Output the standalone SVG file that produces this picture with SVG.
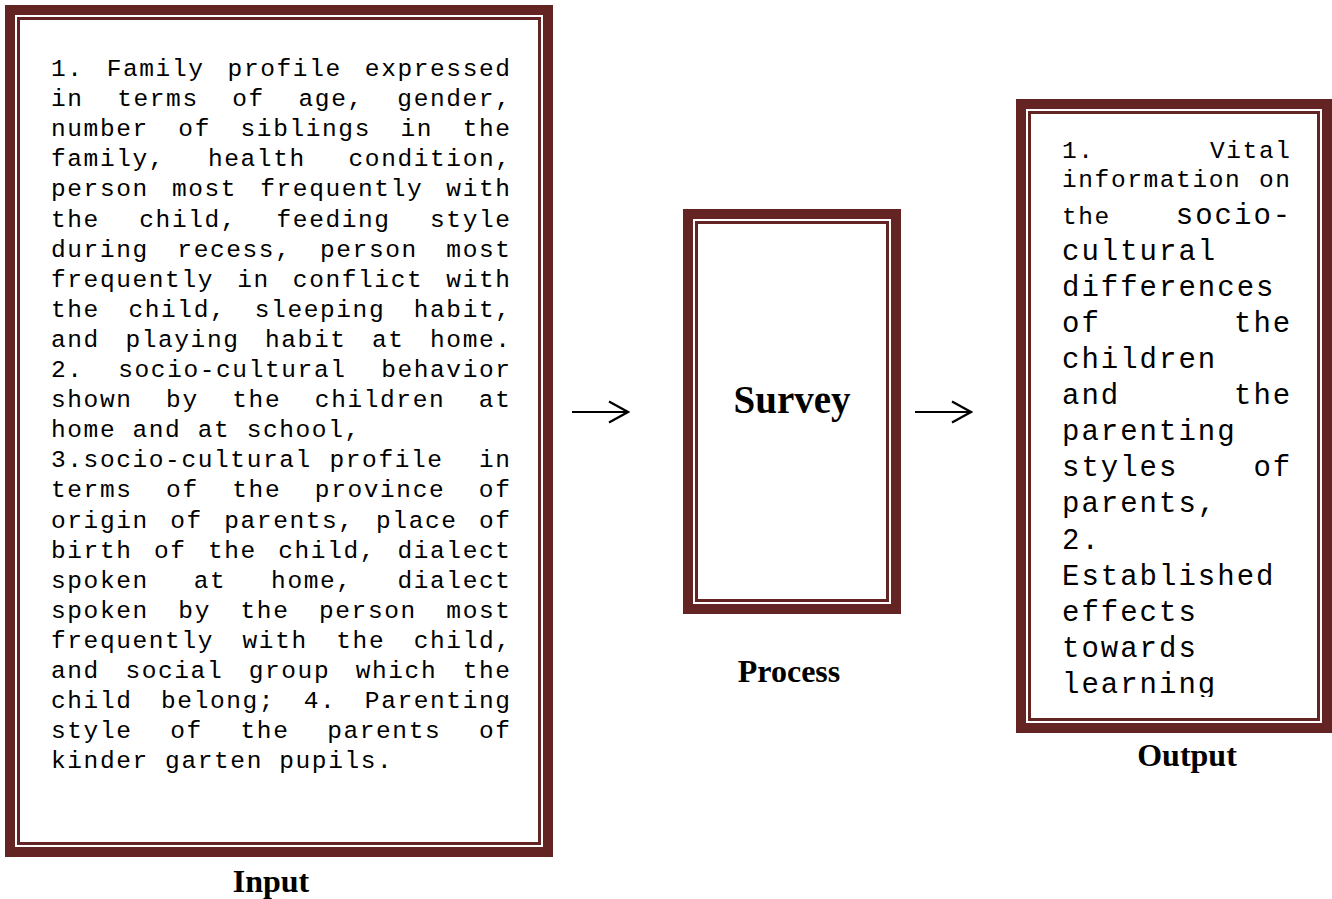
<svg xmlns="http://www.w3.org/2000/svg" width="1332" height="899" viewBox="0 0 1332 899">
<style>
.band{fill:#ffffff;stroke:#632423;stroke-width:10}
.line{fill:none;stroke:#632423;stroke-width:3}
.mono{font-family:"Liberation Mono","Courier New",monospace;fill:#000000}
.s{font-size:24.5px;letter-spacing:1.6px}
.l{font-size:29px;letter-spacing:2.0px}
.lab{font-family:"Liberation Serif","Times New Roman",serif;font-weight:bold;fill:#000000;text-anchor:middle}
.conn{stroke:#000000;stroke-width:2;fill:none}
</style>
<defs>
<marker id="head" viewBox="0 0 22 24" refX="20" refY="12" markerWidth="22" markerHeight="24" markerUnits="userSpaceOnUse" orient="auto">
<path d="M1,1.5 L20,12 L1,22.5" fill="none" stroke="#000000" stroke-width="2.2"/>
</marker>
<clipPath id="outclip"><rect x="1040" y="120" width="272" height="577"/></clipPath>
</defs>
<rect x="0" y="0" width="1332" height="899" fill="#ffffff"/>

<g id="input">
<rect class="band" x="10" y="10" width="538" height="842"/>
<rect class="line" x="18.5" y="18.5" width="521" height="825"/>
<g class="mono s">
<text x="51" y="76" word-spacing="6.8">1. Family profile expressed</text>
<text x="51" y="106.1" word-spacing="17.3">in terms of age, gender,</text>
<text x="51" y="136.2" word-spacing="13.25">number of siblings in the</text>
<text x="51" y="166.3" word-spacing="26.5">family, health condition,</text>
<text x="51" y="196.4" word-spacing="6.8">person most frequently with</text>
<text x="51" y="226.5" word-spacing="23.1">the child, feeding style</text>
<text x="51" y="256.6" word-spacing="12.23">during recess, person most</text>
<text x="51" y="286.7" word-spacing="6.8">frequently in conflict with</text>
<text x="51" y="316.8" word-spacing="12.23">the child, sleeping habit,</text>
<text x="51" y="346.9" word-spacing="9.18">and playing habit at home.</text>
<text x="51" y="377" word-spacing="18.35">2. socio-cultural behavior</text>
<text x="51" y="407.1" word-spacing="17.3">shown by the children at</text>
<text x="51" y="437.2">home and at school,</text>
<text x="51" y="467.3" word-spacing="1.37" xml:space="preserve" style="white-space:pre">3.socio-cultural profile  in</text>
<text x="51" y="497.4" word-spacing="17.3">terms of the province of</text>
<text x="51" y="527.5" word-spacing="5.1">origin of parents, place of</text>
<text x="51" y="557.6" word-spacing="5.1">birth of the child, dialect</text>
<text x="51" y="587.7" word-spacing="28.53">spoken at home, dialect</text>
<text x="51" y="617.8" word-spacing="13.25">spoken by the person most</text>
<text x="51" y="647.9" word-spacing="12.23">frequently with the child,</text>
<text x="51" y="678" word-spacing="9.18">and social group which the</text>
<text x="51" y="708.1" word-spacing="12.23">child belong; 4. Parenting</text>
<text x="51" y="738.2" word-spacing="21.4">style of the parents of</text>
<text x="51" y="768.3">kinder garten pupils.</text>
</g>
<text class="lab" x="271" y="892" font-size="32">Input</text>
</g>

<g id="process">
<rect class="band" x="688" y="214" width="208" height="395"/>
<rect class="line" x="696.5" y="222.5" width="191" height="378"/>
<text class="lab" x="792" y="413" font-size="39">Survey</text>
<text class="lab" x="789" y="682" font-size="32">Process</text>
</g>

<g id="output">
<rect class="band" x="1021" y="104" width="306" height="624"/>
<rect class="line" x="1029.5" y="112.5" width="289" height="607"/>
<g clip-path="url(#outclip)" class="mono">
<text class="s" x="1062" y="158" word-spacing="99.1">1. Vital</text>
<text class="s" x="1062" y="187" word-spacing="1.3">information on</text>
<text class="s" x="1062" y="224">the</text>
<text class="l" x="1175.8" y="224">socio-</text>
<text class="l" x="1062" y="260">cultural</text>
<text class="l" x="1062" y="296">differences</text>
<text class="l" x="1062" y="332" word-spacing="113.8">of the</text>
<text class="l" x="1062" y="368">children</text>
<text class="l" x="1062" y="404" word-spacing="94.4">and the</text>
<text class="l" x="1062" y="440">parenting</text>
<text class="l" x="1062" y="476" word-spacing="55.6">styles of</text>
<text class="l" x="1062" y="512">parents,</text>
<text class="l" x="1062" y="549">2.</text>
<text class="l" x="1062" y="585">Established</text>
<text class="l" x="1062" y="621">effects</text>
<text class="l" x="1062" y="657">towards</text>
<text class="l" x="1062" y="693">learning</text>
</g>
<text class="lab" x="1187" y="766" font-size="32">Output</text>
</g>

<g id="connectors">
<path class="conn" d="M572,412 H628" marker-end="url(#head)"/>
<path class="conn" d="M915,412 H971" marker-end="url(#head)"/>
</g>
</svg>
